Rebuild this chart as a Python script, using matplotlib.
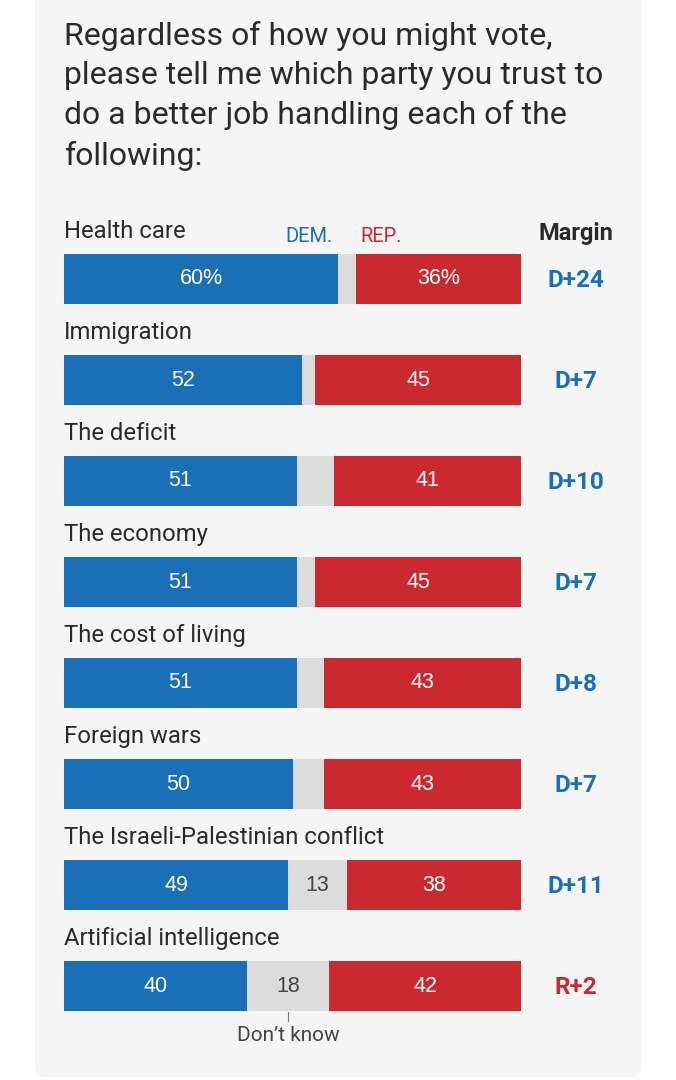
import matplotlib.pyplot as plt
from matplotlib.patches import FancyBboxPatch

issues = [
    "Health care",
    "Immigration",
    "The deficit",
    "The economy",
    "The cost of living",
    "Foreign wars",
    "The Israeli-Palestinian conflict",
    "Artificial intelligence",
]
dem = [60, 52, 51, 51, 51, 50, 49, 40]
rep = [36, 45, 41, 45, 43, 43, 38, 42]
margins = ["D+24", "D+7", "D+10", "D+7", "D+8", "D+7", "D+11", "R+2"]
title = ("Regardless of how you might vote,\n"
         "please tell me which party you trust to\n"
         "do a better job handling each of the\n"
         "following:")

BLUE = "#1a6fb6"
RED = "#c9292f"
GRAY = "#dcdcdc"
INK = "#2a2a2a"
PANEL = "#f5f5f5"
COND = ["Roboto", "DejaVu Sans"]
PLAIN = ["Liberation Sans", "DejaVu Sans"]

W, H = 676, 1080
fig = plt.figure(figsize=(W / 100, H / 100), dpi=100)
fig.patch.set_facecolor("white")

panel = FancyBboxPatch((35 / W, 3 / H), 606 / W, 1.2, boxstyle="round,pad=0,rounding_size=0.012",
                       transform=fig.transFigure, facecolor=PANEL, edgecolor="none", zorder=-10)
fig.patches.append(panel)

# axes spans the whole figure; x is percent (bar 0..100 = 64..521 px), y is row index
px_per_pct = 457 / 100
row_px = 101
row0_px = 279
ax = fig.add_axes([0, 0, 1, 1])
ax.set_xlim(-64 / px_per_pct, (W - 64) / px_per_pct)
ax.set_ylim((H - row0_px) / row_px, -row0_px / row_px)
ax.axis("off")
ax.set_zorder(1)

dk = [100 - d - r for d, r in zip(dem, rep)]
rows = list(range(len(issues)))
bh = 50 / row_px
ax.barh(rows, dem, height=bh, color=BLUE, zorder=2)
ax.barh(rows, dk, left=dem, height=bh, color=GRAY, zorder=2)
ax.barh(rows, rep, left=[d + k for d, k in zip(dem, dk)], height=bh, color=RED, zorder=2)

margin_x = (576 - 64) / px_per_pct
for i, name in enumerate(issues):
    ax.text(0, i - 0.41, name, ha="left", va="baseline", fontsize=17.2, color=INK, family=COND)
    suffix = "%" if i == 0 else ""
    ax.text(dem[i] / 2, i, f"{dem[i]}{suffix}", ha="center", va="center", fontsize=15.5,
            color="white", family=PLAIN, zorder=3)
    ax.text(dem[i] + dk[i] + rep[i] / 2, i, f"{rep[i]}{suffix}", ha="center", va="center",
            fontsize=15.5, color="white", family=PLAIN, zorder=3)
    if dk[i] >= 10:
        ax.text(dem[i] + dk[i] / 2, i, str(dk[i]), ha="center", va="center", fontsize=15.5,
                color="#444444", family=PLAIN, zorder=3)
    mcol = BLUE if margins[i].startswith("D") else RED
    ax.text(margin_x, i + 0.01, margins[i], ha="center", va="center", fontsize=17.5,
            fontweight="bold", color=mcol, family=COND)

# header labels on the first row
ax.text(dem[0] - 1.2, -0.37, "DEM.", ha="right", va="baseline", fontsize=14.5, color=BLUE, family=COND)
ax.text(dem[0] + dk[0] + 0.9, -0.37, "REP.", ha="left", va="baseline", fontsize=14.5, color=RED, family=COND)
ax.text(margin_x, -0.39, "Margin", ha="center", va="baseline", fontsize=17, fontweight="bold",
        color=INK, family=COND)

# "Don't know" callout under the last row
last = len(issues) - 1
dk_mid = dem[last] + dk[last] / 2
ax.plot([dk_mid, dk_mid], [last + 0.26, last + 0.35], color="#777777", lw=0.8)
ax.text(dk_mid, last + 0.49, "Don\u2019t know", ha="center", va="center", fontsize=15,
        color="#444444", family=COND)

fig.text(64 / W, 1 - 21 / H, title, ha="left", va="top", fontsize=23, color=INK,
         family=COND, linespacing=1.43)

fig.savefig("out.png", dpi=100, facecolor=fig.get_facecolor())
